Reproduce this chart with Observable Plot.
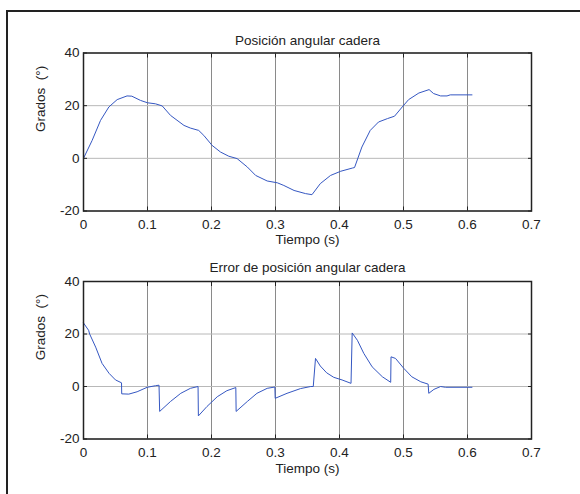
<!DOCTYPE html>
<html>
<head>
<meta charset="utf-8">
<script src="https://cdn.jsdelivr.net/npm/d3@7"></script>
<script src="https://cdn.jsdelivr.net/npm/@observablehq/plot@0.6"></script>
<style>
  html, body { margin: 0; padding: 0; background: #fff; }
  #wrap { position: relative; width: 580px; height: 494px; overflow: hidden; background: #fff; }
  #border { position: absolute; left: 6px; top: 10px; width: 600px; height: 600px;
            border-left: 2px solid #222; border-top: 2px solid #222; }
  .panel { position: absolute; left: 0; }
</style>
</head>
<body>
<div id="wrap"><div id="border"></div></div>
<script>
// ---- data ----
const xTicks = [0, 0.1, 0.2, 0.3, 0.4, 0.5, 0.6, 0.7];
const yTicks = [-20, 0, 20, 40];

const posTitle = "Posición angular cadera";
const errTitle = "Error de posición angular cadera";
const xLabel = "Tiempo (s)";
const yLabel = "Grados  (°)";

const posT = [0,0.0135,0.0266,0.0396,0.0526,0.068,0.0755,0.089,0.1,0.1125,0.123,0.136,0.157,0.167,0.180,0.188,0.201,0.214,0.227,0.240,0.256,0.269,0.287,0.303,0.313,0.329,0.347,0.357,0.370,0.386,0.402,0.420,0.4235,0.435,0.448,0.461,0.475,0.486,0.498,0.508,0.524,0.540,0.547,0.558,0.568,0.573,0.607];
const posDeg = [0,6.8,14.4,19.5,22.3,23.7,23.6,22,21.1,20.7,19.9,16.3,12.5,11.5,10.6,8.7,4.9,2.4,0.8,-0.1,-3.3,-6.5,-8.6,-9.3,-10.3,-12.2,-13.4,-13.8,-9.6,-6.5,-4.9,-3.7,-3.5,4.3,10.6,13.8,15.1,16.0,19.5,22.3,24.8,26.1,24.6,23.7,23.7,24.1,24.1];

const errT = [0,0.008,0.0096,0.019,0.029,0.040,0.050,0.0594,0.0597,0.0708,0.0838,0.0995,0.1125,0.118,0.119,0.136,0.152,0.167,0.179,0.1795,0.193,0.209,0.224,0.238,0.2385,0.256,0.271,0.287,0.299,0.2995,0.318,0.339,0.355,0.359,0.3625,0.370,0.380,0.391,0.404,0.418,0.4198,0.428,0.438,0.451,0.467,0.480,0.4805,0.4875,0.5005,0.513,0.527,0.5385,0.5395,0.5475,0.558,0.5656,0.607];
const errDeg = [24.2,21.4,20,15,8.8,5,2.5,1.4,-2.8,-2.9,-2.0,-0.3,0.3,0.5,-9.5,-5.7,-2.6,-0.7,0,-11.2,-7.6,-3.9,-1.6,-0.4,-9.5,-5.7,-2.6,-0.7,-0.2,-4.5,-2.6,-0.8,0,0,10.7,7.8,5.2,3.5,2.5,1.2,20.4,17.6,12.6,7.5,3.7,1.6,11.3,10.7,6.9,3.7,1.8,0.9,-2.6,-1.1,0,-0.3,-0.3];

// ---- chart ----
function makePlot(title, tArr, vArr, mt, mb, h, titleDy, labelDy) {
  const data = tArr.map((t, i) => ({t, v: vArr[i]}));
  const fmt = d => String(d);
  return Plot.plot({
    width: 580, height: h,
    marginLeft: 83, marginRight: 49, marginTop: mt, marginBottom: mb,
    style: {fontFamily: "'Liberation Sans', Arial, sans-serif", fontSize: "13.5px", color: "#222", background: "transparent", overflow: "visible"},
    x: {domain: [0, 0.7]},
    y: {domain: [-20, 40]},
    marks: [
      Plot.gridX(xTicks, {stroke: "#8a8a8a", strokeOpacity: 1}),
      Plot.gridY(yTicks, {stroke: "#b8b8b8", strokeOpacity: 1}),
      Plot.line(data, {x: "t", y: "v", stroke: "#3557c2", strokeWidth: 1}),
      Plot.frame({stroke: "#222", strokeWidth: 1.5}),
      Plot.axisX(xTicks, {anchor: "bottom", tickSize: -4, tickPadding: 12, tickFormat: fmt, label: null, fill: "#222"}),
      Plot.axisX(xTicks, {anchor: "top", tickSize: -4, tickFormat: () => "", label: null}),
      Plot.axisY(yTicks, {anchor: "left", tickSize: -4, tickPadding: 8, tickFormat: fmt, label: null, fill: "#222"}),
      Plot.axisY(yTicks, {anchor: "right", tickSize: -4, tickFormat: () => "", label: null}),
      Plot.text([title], {text: d => d, frameAnchor: "top", dy: titleDy, fill: "#222"}),
      Plot.text([xLabel], {text: d => d, frameAnchor: "bottom", dy: labelDy, fill: "#222"}),
      Plot.text([yLabel], {text: d => d, frameAnchor: "left", dx: -43, rotate: -90, fill: "#222"})
    ]
  });
}

const wrap = document.getElementById("wrap");
const p1 = makePlot(posTitle, posT, posDeg, 52.5, 36.5, 247, -18, 33);
p1.classList.add("panel"); p1.style.top = "0px";
const p2 = makePlot(errTitle, errT, errDeg, 34, 55.5, 247, -19, 34);
p2.classList.add("panel"); p2.style.top = "247px";
wrap.appendChild(p1);
wrap.appendChild(p2);
</script>
</body>
</html>
